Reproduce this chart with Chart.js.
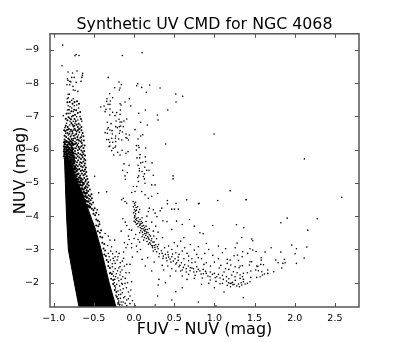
<!DOCTYPE html>
<html>
<head>
<meta charset="utf-8">
<script src="https://cdn.jsdelivr.net/npm/chart.js@4/dist/chart.umd.min.js"></script>
<style>
body { margin: 0; background: #fff; }
canvas { display: block; }
</style>
</head>
<body>
<canvas id="canvas-1" width="399" height="342"></canvas>
<script>
const xTicks = [-1, -0.5, 0, 0.5, 1, 1.5, 2, 2.5];
const xTickLabels = ['\u22121.0', '\u22120.5', '0.0', '0.5', '1.0', '1.5', '2.0', '2.5'];
const yTicks = [-9, -8, -7, -6, -5, -4, -3, -2];
const yTickLabels = ['\u22129', '\u22128', '\u22127', '\u22126', '\u22125', '\u22124', '\u22123', '\u22122'];

// the main sequence is solid black in the picture, so only its outline is read
const locusEdge = [[-0.835, -5.85], [-0.865, -5.7], [-0.855, -4.99], [-0.84, -4.0], [-0.818, -3.0], [-0.743, -2.0], [-0.685, -1.27],
    [-0.224, -1.27], [-0.31, -2.0], [-0.41, -3.0], [-0.48, -3.6], [-0.54, -4.0], [-0.6, -4.39], [-0.64, -4.69], [-0.7, -5.0], [-0.76, -5.34], [-0.8, -5.7]];

const topPlume = [[-0.888, -9.14], [-0.735, -8.82], [-0.72, -8.86], [-0.685, -8.83], [-0.897, -8.52], [-0.145, -8.83], [0.10, -8.91],
    [-0.822, -8.33], [-0.71, -8.36], [-0.64, -8.29], [-0.643, -8.23], [-0.65, -8.17], [-0.66, -8.05], [-0.765, -8.30], [-0.83, -8.13],
    [-0.822, -8.08], [-0.776, -8.17], [-0.745, -8.17], [-0.786, -8.03], [-0.797, -8.05], [-0.76, -7.90], [-0.72, -8.02], [-0.835, -7.95],
    [-0.80, -7.95], [-0.756, -7.79], [-0.735, -7.78], [-0.82, -7.66], [-0.805, -7.66], [-0.818, -7.56], [-0.83, -7.53], [-0.756, -7.53],
    [-0.776, -7.48], [-0.70, -7.75], [-0.797, -7.29], [-0.82, -7.32], [-0.83, -7.19], [-0.776, -7.25], [-0.745, -7.32], [-0.714, -7.34],
    [-0.69, -7.25], [-0.88, -7.02], [-0.82, -7.09], [-0.797, -7.09], [-0.756, -7.14], [-0.80, -6.94], [-0.776, -6.99], [-0.756, -6.85],
    [-0.714, -6.99], [-0.672, -6.99], [-0.70, -6.89], [-0.735, -6.79], [-0.797, -6.85], [-0.84, -6.79], [-0.86, -6.66], [-0.80, -6.74],
    [-0.756, -6.69], [-0.672, -6.74], [-0.65, -6.85], [-0.84, -6.59], [-0.797, -6.54], [-0.756, -6.59], [-0.714, -6.54], [-0.672, -6.64],
    [-0.652, -6.44], [-0.693, -6.44], [-0.735, -6.44], [-0.776, -6.44], [-0.818, -6.44], [-0.85, -6.49], [-0.652, -6.29], [-0.672, -6.35],
    [-0.714, -6.29], [-0.735, -6.24], [-0.756, -6.33], [-0.693, -6.19], [-0.64, -6.14], [-0.67, -6.07], [-0.715, -6.10], [-0.745, -6.05]];

const plumeFill = [[-0.85, -6.93], [-0.83, -6.88], [-0.815, -6.97], [-0.785, -6.91], [-0.74, -6.92], [-0.725, -6.85], [-0.69, -6.78], [-0.66, -6.92],
    [-0.85, -6.72], [-0.825, -6.68], [-0.78, -6.8], [-0.765, -6.75], [-0.745, -6.72], [-0.715, -6.75], [-0.7, -6.68], [-0.685, -6.62], [-0.655, -6.68],
    [-0.87, -6.58], [-0.855, -6.55], [-0.825, -6.6], [-0.81, -6.62], [-0.785, -6.6], [-0.77, -6.55], [-0.74, -6.63], [-0.73, -6.58], [-0.7, -6.58], [-0.655, -6.58], [-0.64, -6.5],
    [-0.865, -6.42], [-0.845, -6.38], [-0.83, -6.5], [-0.805, -6.48], [-0.79, -6.39], [-0.765, -6.49], [-0.75, -6.42], [-0.72, -6.47], [-0.705, -6.38], [-0.68, -6.52], [-0.66, -6.37], [-0.63, -6.4],
    [-0.865, -6.3], [-0.85, -6.26], [-0.82, -6.33], [-0.805, -6.3], [-0.775, -6.32], [-0.76, -6.27], [-0.735, -6.34], [-0.7, -6.3], [-0.685, -6.27], [-0.665, -6.24], [-0.65, -6.2], [-0.625, -6.27],
    [-0.83, -7.42], [-0.8, -7.43], [-0.765, -7.38], [-0.74, -7.43], [-0.71, -7.45], [-0.685, -7.38], [-0.81, -7.2], [-0.78, -7.15], [-0.745, -7.2], [-0.72, -7.18], [-0.7, -7.1], [-0.67, -7.13], [-0.735, -7.05], [-0.76, -7.02], [-0.84, -7.08],
    [-0.735, -6.17], [-0.72, -6.2], [-0.705, -6.14], [-0.69, -6.08], [-0.725, -6.04], [-0.655, -6.1], [-0.63, -6.05], [-0.615, -6.12], [-0.7, -5.98], [-0.68, -6.02], [-0.735, -5.96], [-0.655, -5.97], [-0.64, -5.92], [-0.62, -5.96],
    [-0.735, -5.88], [-0.715, -5.85], [-0.695, -5.9], [-0.67, -5.86], [-0.65, -5.83], [-0.63, -5.86], [-0.61, -5.82], [-0.74, -5.78], [-0.72, -5.75], [-0.7, -5.8], [-0.68, -5.76], [-0.66, -5.72], [-0.64, -5.77], [-0.62, -5.72], [-0.605, -5.68],
    [-0.735, -5.66], [-0.71, -5.62], [-0.695, -5.68], [-0.67, -5.62], [-0.65, -5.6], [-0.63, -5.64], [-0.61, -5.58], [-0.72, -5.54], [-0.7, -5.5], [-0.68, -5.55], [-0.66, -5.5], [-0.64, -5.47], [-0.62, -5.52], [-0.6, -5.46],
    [-0.7, -5.4], [-0.68, -5.42], [-0.665, -5.36], [-0.645, -5.38], [-0.625, -5.35], [-0.61, -5.4], [-0.595, -5.33], [-0.69, -5.28], [-0.67, -5.22], [-0.65, -5.28], [-0.63, -5.23], [-0.61, -5.27], [-0.59, -5.2],
    [-0.66, -5.14], [-0.64, -5.1], [-0.62, -5.15], [-0.6, -5.09], [-0.58, -5.12], [-0.645, -5.02], [-0.625, -5.0], [-0.605, -5.04], [-0.585, -4.97], [-0.57, -5.02],
    [-0.6, -4.9], [-0.58, -4.86], [-0.565, -4.92], [-0.59, -4.78], [-0.57, -4.75], [-0.55, -4.8], [-0.565, -4.63], [-0.545, -4.6], [-0.53, -4.66], [-0.56, -4.52], [-0.54, -4.48], [-0.525, -4.54],
    [-0.55, -4.38], [-0.53, -4.35], [-0.51, -4.41], [-0.525, -4.22], [-0.505, -4.18], [-0.49, -4.24], [-0.505, -4.07], [-0.485, -4.03], [-0.47, -4.1], [-0.47, -3.9], [-0.45, -3.86],
    [-0.47, -3.72], [-0.445, -3.7], [-0.43, -3.76], [-0.45, -3.55], [-0.425, -3.5], [-0.41, -3.58], [-0.42, -3.38], [-0.395, -3.36], [-0.395, -3.2], [-0.37, -3.16], [-0.38, -3.03], [-0.36, -2.97],
    [-0.37, -2.85], [-0.35, -2.8], [-0.34, -2.68], [-0.32, -2.62], [-0.32, -2.5], [-0.3, -2.44], [-0.295, -2.3], [-0.275, -2.26], [-0.285, -2.12], [-0.26, -2.08], [-0.26, -1.96], [-0.24, -1.9],
    [-0.24, -1.78], [-0.22, -1.72], [-0.215, -1.58], [-0.2, -1.52], [-0.195, -1.4], [-0.18, -1.34]];

// speckled upper part of the sequence, above where it turns solid
const plumeCore = [[-0.868, -6.22], [-0.84, -6.24], [-0.815, -6.21], [-0.79, -6.25], [-0.77, -6.2], [-0.755, -6.15], [-0.86, -6.16], [-0.83, -6.14], [-0.8, -6.16], [-0.78, -6.12],
    [-0.87, -6.09], [-0.85, -6.07], [-0.825, -6.08], [-0.805, -6.05], [-0.775, -6.06], [-0.76, -6.02], [-0.865, -6.01], [-0.84, -6.0], [-0.815, -6.0], [-0.79, -5.99], [-0.77, -5.96],
    [-0.87, -5.94], [-0.85, -5.93], [-0.83, -5.95], [-0.805, -5.92], [-0.785, -5.91], [-0.76, -5.9], [-0.865, -5.87], [-0.84, -5.86], [-0.82, -5.88], [-0.795, -5.85], [-0.775, -5.84], [-0.755, -5.82],
    [-0.87, -5.8], [-0.85, -5.79], [-0.825, -5.8], [-0.805, -5.78], [-0.785, -5.76], [-0.765, -5.77], [-0.75, -5.72], [-0.86, -5.73], [-0.835, -5.74], [-0.815, -5.71], [-0.795, -5.69], [-0.775, -5.7], [-0.755, -5.66],
    [-0.8, -5.62], [-0.78, -5.63], [-0.765, -5.58], [-0.745, -5.6], [-0.79, -5.55], [-0.775, -5.5], [-0.755, -5.52], [-0.735, -5.48], [-0.765, -5.44], [-0.745, -5.41], [-0.725, -5.43], [-0.755, -5.35], [-0.735, -5.31], [-0.715, -5.36],
    [-0.74, -5.24], [-0.72, -5.2], [-0.705, -5.26], [-0.715, -5.13], [-0.695, -5.1], [-0.68, -5.16], [-0.7, -5.04], [-0.675, -5.02], [-0.66, -5.07], [-0.67, -4.94], [-0.645, -4.92], [-0.63, -4.97],
    [-0.65, -4.83], [-0.63, -4.8], [-0.61, -4.85], [-0.625, -4.72], [-0.605, -4.68], [-0.59, -4.7], [-0.605, -4.6], [-0.585, -4.56], [-0.61, -4.48], [-0.59, -4.45], [-0.57, -4.44], [-0.585, -4.33], [-0.565, -4.3], [-0.55, -4.27]];

const gapStars = [[-0.49, -5.2], [-0.44, -4.7], [-0.34, -4.73], [-0.46, -4.19], [-0.44, -4.04], [-0.43, -3.83], [-0.36, -3.48], [-0.32, -3.4],
    [-0.24, -3.28], [-0.28, -3.08], [-0.32, -2.88], [-0.26, -2.73], [-0.2, -2.78], [-0.13, -2.73], [-0.235, -2.58], [-0.175, -2.48],
    [-0.295, -2.68], [-0.11, -2.13], [-0.175, -2.23], [-0.154, -1.98], [-0.112, -1.98], [-0.07, -1.72], [-0.17, -1.53], [-0.05, -1.37],
    [0.012, -1.31], [0.263, -1.33], [0.3, -1.93], [-0.22, -2.93], [-0.185, -2.88], [-0.145, -2.65], [-0.205, -2.36], [-0.23, -2.18],
    [-0.19, -2.06], [-0.245, -2.0], [-0.135, -1.82], [-0.2, -1.75], [-0.165, -1.65], [-0.115, -1.58], [-0.19, -1.45], [-0.135, -1.42],
    [-0.09, -1.48], [-0.05, -1.6], [-0.02, -1.46], [-0.15, -1.33], [-0.09, -1.31], [-0.225, -1.62], [-0.27, -2.48], [-0.3, -2.28],
    [-0.255, -2.2], [-0.06, -2.3], [-0.03, -2.03], [-0.09, -2.55], [-0.1, -3.05], [-0.02, -2.77], [-0.06, -3.3], [-0.16, -3.55],
    [-0.3, -3.28], [-0.33, -3.12], [-0.29, -2.95], [-0.265, -2.87], [-0.31, -2.78], [-0.235, -2.78], [-0.25, -2.66], [-0.21, -2.68], [-0.17, -2.6], [-0.27, -2.57],
    [-0.235, -2.42], [-0.19, -2.44], [-0.15, -2.38], [-0.26, -2.33], [-0.22, -2.27], [-0.17, -2.32], [-0.14, -2.18], [-0.24, -2.1], [-0.2, -2.14], [-0.16, -2.1],
    [-0.215, -1.95], [-0.18, -1.9], [-0.145, -1.95], [-0.23, -1.84], [-0.17, -1.78], [-0.095, -1.85], [-0.19, -1.64], [-0.145, -1.7], [-0.13, -1.55], [-0.16, -1.42],
    [-0.2, -1.36], [-0.11, -1.38], [-0.07, -1.52], [-0.04, -1.78], [-0.08, -2.0], [-0.1, -2.3], [-0.05, -2.55], [-0.12, -2.5], [-0.13, -2.92], [-0.03, -3.18]];

const loopStars = [[-0.32, -8.17], [-0.187, -8.03], [-0.158, -7.95], [-0.24, -7.86], [-0.174, -7.85], [-0.183, -7.79], [-0.303, -7.68], [-0.058, -7.53],
    [-0.336, -7.53], [-0.34, -7.45], [-0.295, -7.46], [-0.266, -7.56], [-0.112, -7.43], [-0.174, -7.38], [-0.162, -7.34], [-0.04, -7.31],
    [-0.324, -7.36], [-0.30, -7.36], [-0.415, -7.28], [-0.373, -7.31], [-0.349, -7.21], [-0.36, -7.14], [-0.30, -7.22], [-0.303, -7.04],
    [-0.266, -7.12], [-0.216, -7.11], [-0.174, -7.06], [-0.17, -7.19], [-0.237, -7.02], [-0.187, -6.91], [-0.174, -6.83], [-0.125, -6.86],
    [-0.09, -6.92], [-0.153, -6.83], [-0.224, -6.86], [-0.332, -6.82], [-0.286, -6.78], [-0.166, -6.71], [-0.133, -6.69], [-0.183, -6.69],
    [-0.228, -6.69], [-0.32, -6.66], [-0.332, -6.61], [-0.30, -6.59], [-0.274, -6.57], [-0.208, -6.66], [-0.174, -6.57], [-0.145, -6.53],
    [-0.183, -6.49], [-0.36, -6.51], [-0.332, -6.49], [-0.27, -6.47], [-0.1, -6.47], [-0.058, -6.44], [-0.228, -6.41], [-0.191, -6.32],
    [-0.232, -6.34], [-0.278, -6.34], [-0.34, -6.3], [-0.315, -6.3], [-0.153, -6.29], [-0.087, -6.34], [-0.1, -6.36], [-0.07, -6.29],
    [0.012, -6.6], [0.083, -6.41], [0.108, -6.45], [0.05, -6.32], [0.083, -6.82], [0.166, -6.74], [0.058, -7.09], [0.141, -7.19],
    [0.29, -7.04], [0.299, -6.89], [0.42, -7.19], [0.523, -7.43], [0.519, -7.67], [0.606, -7.6], [0.324, -7.85], [0.195, -7.94],
    [0.154, -7.72], [0.095, -7.87], [0.046, -7.98], [0.033, -7.92], [0.394, -6.17], [0.996, -6.47], [-0.303, -6.22], [-0.228, -6.24],
    [-0.266, -6.22], [-0.30, -6.11], [-0.311, -6.09], [-0.228, -6.11], [-0.237, -6.07], [-0.261, -6.04], [-0.278, -5.97], [-0.149, -5.98],
    [-0.203, -5.92], [-0.174, -5.84], [-0.253, -5.84], [-0.1, -5.89], [-0.075, -5.94], [0.054, -6.12], [0.029, -6.12], [0.062, -6.06],
    [0.145, -6.05], [0.029, -5.99], [0.075, -5.85], [0.037, -5.75], [0.07, -5.75], [0.141, -5.78], [0.083, -5.6], [0.108, -5.62],
    [0.145, -5.64], [0.224, -5.6], [-0.125, -5.57], [-0.062, -5.53], [0.05, -5.53], [0.133, -5.47], [0.066, -5.43], [0.066, -5.36],
    [0.1, -5.34], [0.158, -5.38], [0.187, -5.38], [-0.083, -5.31], [-0.141, -5.38], [-0.112, -5.21], [0.058, -5.21], [0.129, -5.27],
    [0.24, -5.23], [0.129, -5.12], [0.486, -5.21], [0.486, -5.12], [-0.108, -5.11], [0.046, -5.16], [0.116, -5.19]];

const clumpStars = [[-0.154, -4.49], [-0.133, -4.54], [-0.112, -4.44], [-0.091, -4.39], [-0.008, -4.89], [0.033, -4.89], [0.054, -5.04], [0.137, -4.99],
    [0.22, -4.94], [0.262, -4.94], [0.095, -4.74], [0.012, -4.74], [-0.029, -4.71], [0.137, -4.64], [0.178, -4.54], [0.22, -4.6],
    [0.295, -4.68], [0.415, -4.47], [0.523, -4.39], [0.656, -4.49], [0.801, -4.37], [0.812, -4.39], [1.042, -4.47], [1.196, -4.76],
    [1.395, -4.49], [0.415, -4.37], [0.469, -4.21], [0.503, -4.21], [0.552, -4.21], [0.325, -4.16], [0.24, -4.19], [0.19, -4.24],
    [0.178, -4.14], [0.262, -4.09], [0.345, -4.24], [-0.012, -4.44], [0.004, -4.39], [0.02, -4.42], [0.012, -4.33], [-0.008, -4.28],
    [0.025, -4.26], [0.004, -4.2], [0.016, -4.15], [-0.004, -4.1], [0.02, -4.07], [0.008, -4.02], [0.03, -4.18], [0.045, -4.28],
    [0.058, -4.12], [0.07, -4.2], [0.004, -3.95], [0.02, -3.9], [0.0, -3.85], [0.016, -3.82], [0.036, -3.87], [0.045, -3.78],
    [0.062, -3.83], [0.029, -3.76], [0.07, -3.72], [0.087, -3.78], [0.05, -3.68], [0.079, -3.65], [0.1, -3.7], [0.112, -3.62],
    [0.083, -3.56], [0.104, -3.52], [0.125, -3.58], [0.133, -3.48], [0.112, -3.44], [0.145, -3.42], [0.158, -3.52], [0.129, -3.36],
    [0.154, -3.33], [0.17, -3.38], [0.187, -3.3], [0.162, -3.24], [0.195, -3.2], [0.178, -3.16], [0.212, -3.26], [0.22, -3.12],
    [0.145, -3.6], [0.19, -3.62], [0.24, -3.55], [0.27, -3.7], [0.22, -3.82], [0.15, -3.84], [0.1, -3.95], [0.16, -4.0],
    [0.285, -3.98], [0.36, -3.86], [0.41, -3.84], [0.30, -3.52], [0.355, -3.35], [0.28, -3.32], [0.245, -3.4], [0.25, -3.22],
    [-0.14, -3.92], [-0.11, -3.82], [-0.09, -3.72], [-0.06, -3.6], [-0.03, -3.58], [-0.07, -3.4], [0.02, -3.45], [0.0, -3.33],
    [0.05, -3.3], [-0.12, -3.2], [-0.08, -3.15], [-0.03, -3.05], [0.03, -3.1], [0.07, -3.22], [0.04, -2.93], [0.08, -3.0],
    [0.01, -3.98], [0.03, -3.93], [0.05, -3.95], [0.075, -3.9], [0.055, -3.84], [0.09, -3.84], [0.105, -3.8], [0.075, -3.76], [0.12, -3.72], [0.095, -3.62],
    [0.13, -3.66], [0.15, -3.7], [0.135, -3.55], [0.165, -3.6], [0.175, -3.5], [0.15, -3.47], [0.19, -3.44], [0.205, -3.4], [0.18, -3.34], [0.22, -3.32],
    [0.205, -3.16], [0.235, -3.22], [0.25, -3.12], [0.23, -3.1], [0.27, -3.14], [0.26, -3.06], [0.29, -3.08], [0.12, -3.28], [0.1, -3.38], [0.07, -3.5]];

const arcStars = [[0.23, -3.05], [0.262, -3.0], [0.24, -2.95], [0.282, -2.93], [0.3, -3.02], [0.315, -2.87], [0.34, -2.96], [0.365, -2.8],
    [0.35, -2.88], [0.39, -2.85], [0.4, -2.74], [0.425, -2.84], [0.448, -2.71], [0.43, -2.77], [0.47, -2.78], [0.49, -2.65], [0.51, -2.72],
    [0.531, -2.6], [0.55, -2.67], [0.57, -2.52], [0.59, -2.6], [0.614, -2.46], [0.63, -2.54], [0.65, -2.42], [0.675, -2.5], [0.697, -2.36],
    [0.72, -2.44], [0.745, -2.32], [0.78, -2.33], [0.80, -2.4], [0.835, -2.26], [0.863, -2.27], [0.89, -2.34], [0.92, -2.2], [0.946, -2.18],
    [0.975, -2.25], [1.01, -2.15], [1.03, -2.18], [1.07, -2.14], [1.11, -2.1], [1.15, -2.05], [1.175, -2.0], [1.196, -1.98], [1.225, -2.01],
    [0.305, -3.15], [0.38, -3.05], [0.43, -3.1], [0.47, -3.0], [0.5, -3.2], [0.54, -3.1], [0.58, -3.25], [0.62, -3.35], [0.63, -3.05],
    [0.52, -2.9], [0.56, -2.85], [0.6, -2.95], [0.66, -2.88], [0.7, -3.15], [0.75, -2.98], [0.8, -3.08], [0.72, -2.72], [0.68, -2.66],
    [0.76, -2.62], [0.84, -2.72], [0.88, -2.88], [0.9, -3.18], [0.86, -3.47], [0.93, -3.0], [0.98, -2.82], [1.0, -2.62], [1.05, -2.72],
    [1.1, -2.9], [1.05, -3.1], [1.14, -3.02], [1.16, -2.7], [0.52, -2.35], [0.45, -2.2], [0.6, -2.2], [0.66, -2.1], [0.75, -2.13], [0.84, -1.95],
    [0.93, -1.98], [1.0, -1.85], [1.07, -1.97], [1.12, -1.72], [0.6, -1.85], [0.31, -2.1], [0.39, -2.0], [0.22, -2.35], [0.14, -2.5],
    [0.1, -2.7], [0.17, -2.75], [0.25, -2.62], [0.35, -2.52], [0.42, -2.5], [0.295, -1.6], [0.47, -1.48], [0.52, -1.73], [1.36, -1.55],
    [1.02, -1.3], [0.8, -1.42], [0.98, -3.72], [0.82, -3.5], [0.75, -3.7], [0.69, -3.9], [0.6, -3.75], [0.47, -3.6], [0.53, -3.85],
    [0.31, -2.78], [0.36, -2.73], [0.41, -2.66], [0.46, -2.62], [0.52, -2.56], [0.56, -2.48], [0.6, -2.38], [0.65, -2.32], [0.7, -2.45], [0.74, -2.42],
    [0.78, -2.48], [0.82, -2.35], [0.86, -2.4], [0.9, -2.28], [0.95, -2.32], [1.0, -2.28], [1.05, -2.25], [1.1, -2.22], [1.15, -2.18], [1.18, -2.12],
    [0.68, -2.25], [0.76, -2.22], [0.85, -2.14], [0.95, -2.08], [1.02, -2.04], [1.1, -1.98], [1.16, -1.92], [1.2, -1.88], [1.23, -1.94], [1.26, -2.07],
    [0.42, -2.92], [0.48, -2.86], [0.55, -2.77], [0.62, -2.72], [0.68, -2.8], [0.8, -2.75], [0.9, -2.6], [0.95, -2.5], [1.08, -2.52], [1.14, -2.42],
    [1.18, -2.4], [1.12, -2.32], [1.06, -2.44], [1.16, -2.58], [0.87, -2.55], [0.72, -2.6], [0.78, -2.85], [0.58, -2.35], [0.47, -2.42], [0.37, -2.38]];

const redStars = [[2.12, -5.72], [2.586, -4.57], [1.395, -4.5], [2.28, -3.92], [1.906, -3.94], [1.827, -3.8], [1.366, -3.65], [1.275, -3.74],
    [2.163, -3.58], [1.34, -3.36], [1.465, -3.31], [1.478, -3.26], [1.283, -3.19], [1.258, -3.05], [1.444, -3.02], [1.478, -2.98], [1.519, -2.94],
    [1.706, -3.05], [1.827, -2.92], [1.964, -3.13], [2.022, -3.02], [2.005, -2.87], [2.151, -3.07], [2.117, -2.74], [2.022, -2.58], [1.872, -2.7],
    [1.88, -2.6], [1.852, -2.58], [1.793, -2.6], [1.764, -2.68], [1.839, -2.44], [1.739, -2.33], [1.665, -2.38], [1.665, -2.28], [1.631, -2.92],
    [1.582, -2.75], [1.582, -2.68], [1.611, -2.54], [1.577, -2.55], [1.54, -2.49], [1.527, -2.5], [1.465, -2.63], [1.444, -2.63], [1.436, -2.53],
    [1.415, -2.88], [1.353, -2.93], [1.345, -2.78], [1.287, -2.83], [1.245, -2.81], [1.3, -2.67], [1.196, -2.68], [1.349, -2.51], [1.32, -2.5],
    [1.308, -2.45], [1.258, -2.48], [1.204, -2.53], [1.515, -2.38], [1.548, -2.36], [1.59, -2.33], [1.598, -2.23], [1.623, -2.26], [1.569, -2.18],
    [1.527, -2.16], [1.453, -2.35], [1.411, -2.3], [1.361, -2.28], [1.32, -2.23], [1.283, -2.3], [1.237, -2.33], [1.216, -2.23], [1.258, -2.18],
    [1.32, -2.13], [1.361, -2.1], [1.453, -2.16], [1.444, -2.03], [1.411, -1.98], [1.382, -1.96], [1.34, -1.93], [1.312, -1.88], [1.279, -1.9],
    [1.245, -1.95], [1.208, -1.98], [1.3, -1.96], [1.333, -2.0], [1.361, -2.03], [1.35, -2.18]];

const toPoints = rows => rows.map(r => ({x: r[0], y: r[1]}));

const starSet = (rows, radius = 0.8) => ({
    data: toPoints(rows),
    backgroundColor: '#000',
    borderWidth: 0,
    pointRadius: radius,
    showLine: false
});

// matplotlib style frame with ticks pointing inwards on all four sides
const frame = {
    id: 'frame',
    afterDatasetsDraw(chart) {
        const {ctx, chartArea: a, scales} = chart;
        ctx.save();
        ctx.strokeStyle = '#555';
        ctx.lineWidth = 1;
        ctx.beginPath();
        xTicks.forEach(v => {
            const px = Math.round(scales.x.getPixelForValue(v)) + 0.5;
            ctx.moveTo(px, a.top); ctx.lineTo(px, a.top + 4);
            ctx.moveTo(px, a.bottom); ctx.lineTo(px, a.bottom - 4);
        });
        yTicks.forEach(v => {
            const py = Math.round(scales.y.getPixelForValue(v)) + 0.5;
            ctx.moveTo(a.left, py); ctx.lineTo(a.left + 4, py);
            ctx.moveTo(a.right, py); ctx.lineTo(a.right - 4, py);
        });
        ctx.stroke();
        ctx.lineWidth = 1.5;
        ctx.strokeRect(a.left, a.top, a.right - a.left, a.bottom - a.top);
        ctx.restore();
    }
};

const font = 'DejaVu Sans';

new Chart(document.getElementById('canvas-1'), {
    type: 'scatter',
    data: {
        datasets: [
            {
                data: toPoints(locusEdge),
                showLine: true,
                fill: 'shape',
                backgroundColor: '#000',
                borderColor: '#000',
                borderWidth: 1,
                pointRadius: 0
            },
            starSet(topPlume),
            starSet(plumeFill, 1),
            starSet(plumeCore, 1.3),
            starSet(gapStars),
            starSet(loopStars),
            starSet(clumpStars),
            starSet(arcStars),
            starSet(redStars)
        ]
    },
    plugins: [frame],
    options: {
        responsive: false,
        animation: false,
        layout: {padding: {right: 40}},
        plugins: {
            legend: {display: false},
            tooltip: {enabled: false},
            title: {
                display: true,
                text: 'Synthetic UV CMD for NGC 4068',
                fullSize: false,
                color: '#000',
                font: {family: font, size: 15.8, weight: 'normal', lineHeight: 1},
                padding: {top: 17, bottom: 1}
            }
        },
        scales: {
            x: {
                type: 'linear',
                min: -1.046,
                max: 2.8,
                grid: {display: false},
                border: {display: false},
                afterBuildTicks: s => { s.ticks = xTicks.map(v => ({value: v})); },
                afterFit: s => { s.height = 35; },
                ticks: {
                    color: '#000',
                    font: {family: font, size: 9.5},
                    maxRotation: 0,
                    padding: -2,
                    callback: v => xTickLabels[xTicks.indexOf(v)]
                },
                title: {
                    display: true,
                    text: 'FUV - NUV (mag)',
                    color: '#000',
                    font: {family: font, size: 16},
                    padding: {top: 0, bottom: 3}
                }
            },
            y: {
                type: 'linear',
                reverse: true,
                min: -9.48,
                max: -1.27,
                grid: {display: false},
                border: {display: false},
                afterBuildTicks: s => { s.ticks = yTicks.map(v => ({value: v})); },
                afterFit: s => { s.width = 50; },
                ticks: {
                    color: '#000',
                    font: {family: font, size: 9.5},
                    padding: 3,
                    callback: v => yTickLabels[yTicks.indexOf(v)]
                },
                title: {
                    display: true,
                    text: 'NUV (mag)',
                    color: '#000',
                    font: {family: font, size: 16},
                    padding: {top: 11, bottom: 0}
                }
            }
        }
    }
});
</script>
</body>
</html>
